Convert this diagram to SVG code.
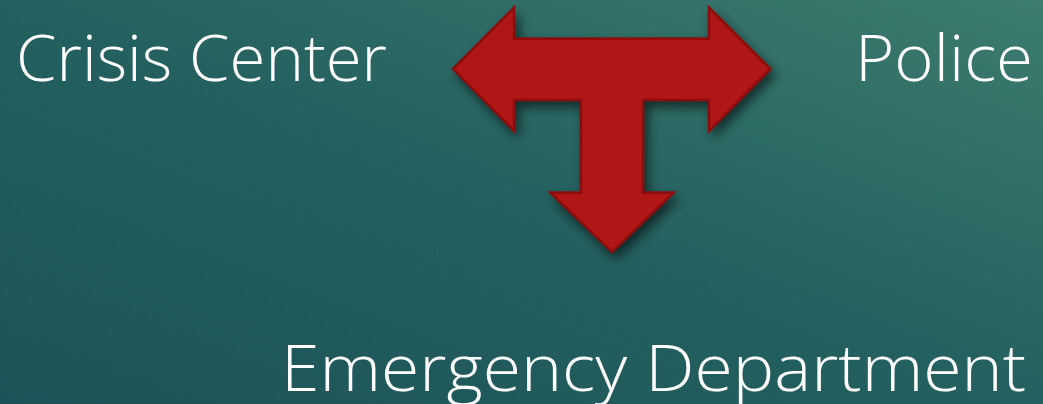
<svg xmlns="http://www.w3.org/2000/svg" width="1043" height="404" viewBox="0 0 1043 404">
<defs>
<linearGradient id="bg" x1="0" y1="1" x2="1" y2="0">
<stop offset="0" stop-color="#1d5358"/>
<stop offset="0.5" stop-color="#24605f"/>
<stop offset="1" stop-color="#3d7c6f"/>
</linearGradient>
<filter id="sh" x="-20%" y="-20%" width="140%" height="150%">
<feGaussianBlur in="SourceAlpha" stdDeviation="6"/>
<feOffset dx="4" dy="6" result="b"/>
<feComponentTransfer><feFuncA type="linear" slope="0.6"/></feComponentTransfer>
<feMerge><feMergeNode/><feMergeNode in="SourceGraphic"/></feMerge>
</filter>
<style>
.lbl{font-family:"Open Sans","Liberation Sans",sans-serif;font-weight:300;font-size:64px;fill:#ffffff}
.arrow{fill:#b01515;stroke:#8a0f0f;stroke-width:2.5;stroke-linejoin:miter}
</style>
</defs>
<rect width="1043" height="404" fill="url(#bg)"/>
<g id="connectors">
<polygon class="arrow" filter="url(#sh)" points="453,69 514,7.5 514,38.5 709,38.5 709,7.5 770.5,69 709,131 709,100 643,100 643,192.5 674,192.5 612,252 550,192.5 581,192.5 581,100 514,100 514,131"/>
</g>
<g id="crisis-center"><text class="lbl" x="16" y="81" textLength="371" lengthAdjust="spacingAndGlyphs">Crisis Center</text></g>
<g id="police"><text class="lbl" x="855" y="81" textLength="178" lengthAdjust="spacingAndGlyphs">Police</text></g>
<g id="emergency-department"><text class="lbl" x="281" y="391" textLength="745" lengthAdjust="spacingAndGlyphs">Emergency Department</text></g>
</svg>
